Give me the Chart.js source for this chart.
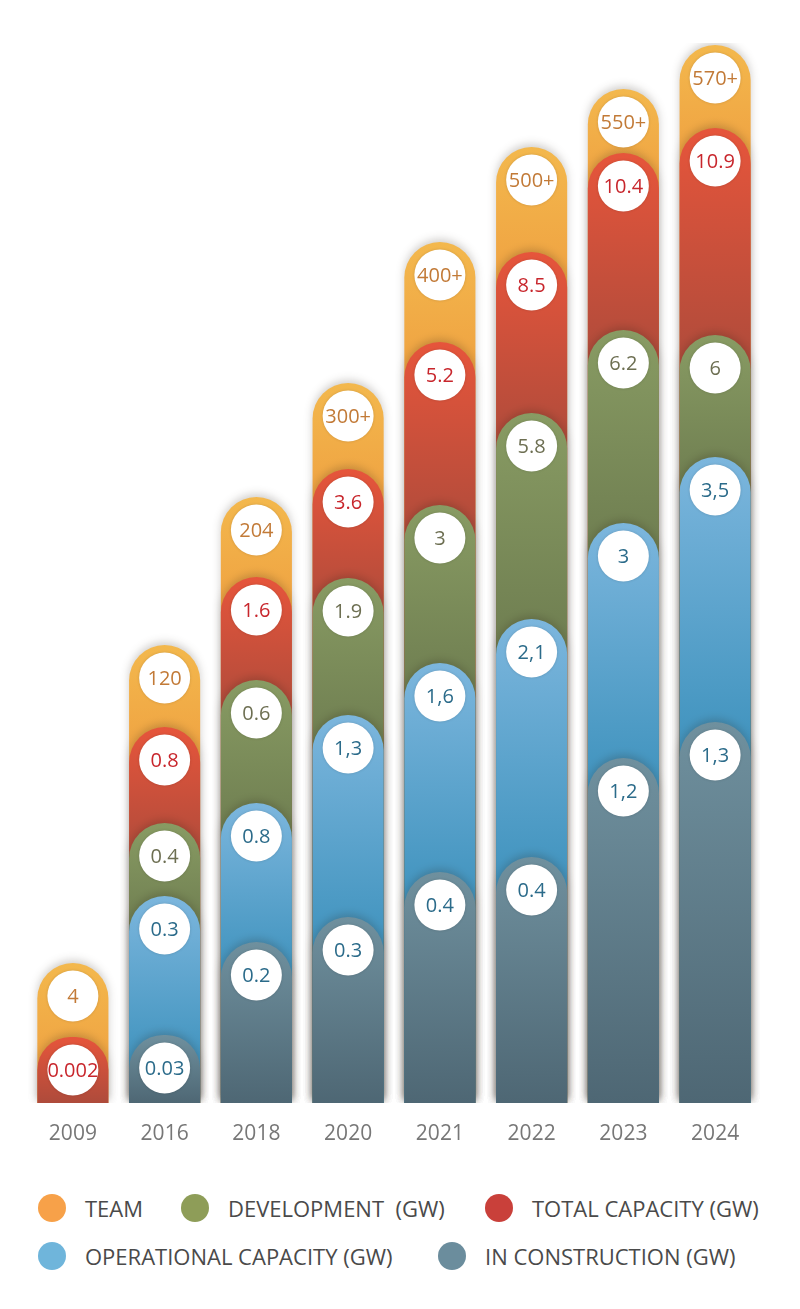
<!DOCTYPE html>
<html>
<head>
<meta charset="utf-8">
<script src="https://cdn.jsdelivr.net/npm/chart.js@4.4.1/dist/chart.umd.min.js"></script>
<style>
  html, body { margin: 0; padding: 0; background: #fff; }
  body { width: 800px; height: 1309px; position: relative; font-family: 'Open Sans', sans-serif; overflow: hidden; }
  #wrap { position: absolute; left: 0; top: 0; width: 800px; height: 1160px; }
  .leg { position: absolute; display: flex; align-items: center; height: 28px; font-size: 22px; color: #4a4a4a; white-space: pre; }
  .dot { width: 28px; height: 28px; border-radius: 50%; margin-right: 19px; flex: none; }
</style>
</head>
<body>
<div id="wrap"><canvas id="c" width="800" height="1160"></canvas></div>
<div class="leg" style="left:38px;top:1194px"><span class="dot" style="background:#F7A149"></span>TEAM</div>
<div class="leg" style="left:181px;top:1194px"><span class="dot" style="background:#8E9D58"></span>DEVELOPMENT  (GW)</div>
<div class="leg" style="left:485px;top:1194px"><span class="dot" style="background:#C9403A"></span>TOTAL CAPACITY (GW)</div>
<div class="leg" style="left:38px;top:1242px"><span class="dot" style="background:#6FB5DB"></span>OPERATIONAL CAPACITY (GW)</div>
<div class="leg" style="left:438px;top:1242px"><span class="dot" style="background:#6B8D9D"></span>IN CONSTRUCTION (GW)</div>
<script>
// Categories
const years = ['2009', '2016', '2018', '2020', '2021', '2022', '2023', '2024'];

// Displayed values (as printed in the infographic)
const teamLabels         = ['4', '120', '204', '300+', '400+', '500+', '550+', '570+'];
const totalLabels        = ['0.002', '0.8', '1.6', '3.6', '5.2', '8.5', '10.4', '10.9'];
const developmentLabels  = [null, '0.4', '0.6', '1.9', '3', '5.8', '6.2', '6'];
const operationalLabels  = [null, '0.3', '0.8', '1,3', '1,6', '2,1', '3', '3,5'];
const constructionLabels = [null, '0.03', '0.2', '0.3', '0.4', '0.4', '1,2', '1,3'];

// Height reached by each series' pill (the graphic is not to scale)
const teamLevel         = [14.0, 45.8, 60.6, 72.0, 86.1, 95.6, 101.4, 105.8];
const totalLevel        = [6.6, 37.6, 52.6, 63.4, 76.1, 85.1, 95.0, 97.5];
const developmentLevel  = [null, 28.0, 42.3, 52.5, 59.8, 69.0, 77.3, 76.8];
const operationalLevel  = [null, 20.7, 30.0, 38.8, 44.0, 48.4, 58.0, 64.6];
const constructionLevel = [null, 6.8, 16.1, 18.6, 23.1, 24.6, 34.5, 38.1];

const levelsBottomUp = [constructionLevel, operationalLevel, developmentLevel, totalLevel, teamLevel];

function lowerLevel(arr, i) {
  const idx = levelsBottomUp.indexOf(arr);
  for (let k = idx - 1; k >= 0; k--) {
    if (levelsBottomUp[k][i] != null) return levelsBottomUp[k][i];
  }
  return 0;
}

function gradientFill(arr, topColor, bottomColor) {
  return function (ctx) {
    const chart = ctx.chart;
    if (!chart.chartArea || ctx.type !== 'data') return topColor;
    const i = ctx.dataIndex;
    const v = arr[i];
    if (v == null) return topColor;
    const y = chart.scales.y;
    const top = y.getPixelForValue(v);
    const low = lowerLevel(arr, i);
    let bottom = y.getPixelForValue(low) + (low > 0 ? 36 : 0);
    if (bottom <= top + 10) bottom = top + 10;
    const g = chart.ctx.createLinearGradient(0, top, 0, bottom);
    g.addColorStop(0, topColor);
    g.addColorStop(1, bottomColor);
    return g;
  };
}

const labelPlugin = {
  id: 'pillLabels',
  beforeDatasetDraw(chart) {
    const c = chart.ctx;
    c.save();
    c.shadowColor = 'rgba(40,30,20,0.22)';
    c.shadowBlur = 8;
    c.shadowOffsetX = 0;
    c.shadowOffsetY = -3;
  },
  afterDatasetDraw(chart) {
    chart.ctx.restore();
  },
  afterDatasetsDraw(chart) {
    const c = chart.ctx;
    chart.data.datasets.forEach((ds, di) => {
      const meta = chart.getDatasetMeta(di);
      meta.data.forEach((el, i) => {
        const txt = ds.valueLabels[i];
        if (txt == null || ds.data[i] == null) return;
        const cx = el.x, cy = el.y + 33;
        c.save();
        c.shadowColor = 'rgba(0,0,0,0.15)';
        c.shadowBlur = 3;
        c.beginPath();
        c.arc(cx, cy, 25.5, 0, Math.PI * 2);
        c.fillStyle = '#ffffff';
        c.fill();
        c.restore();
        c.save();
        c.font = '20px "Open Sans"';
        c.fillStyle = ds.labelColor;
        c.textAlign = 'center';
        c.textBaseline = 'middle';
        c.fillText(txt, cx, cy + 1);
        c.restore();
      });
    });
  }
};

const barCommon = {
  borderWidth: 0,
  borderRadius: { topLeft: 36, topRight: 36, bottomLeft: 0, bottomRight: 0 },
  borderSkipped: 'start',
  barPercentage: 0.775,
  categoryPercentage: 1.0
};

new Chart(document.getElementById('c'), {
  type: 'bar',
  data: {
    labels: years,
    datasets: [
      Object.assign({ label: 'TEAM', data: teamLevel, valueLabels: teamLabels, labelColor: '#C27A37', order: 4,
        backgroundColor: gradientFill(teamLevel, '#F3B84D', '#EFA141') }, barCommon),
      Object.assign({ label: 'DEVELOPMENT  (GW)', data: developmentLevel, valueLabels: developmentLabels, labelColor: '#6D6F52', order: 2,
        backgroundColor: gradientFill(developmentLevel, '#889B63', '#6E7D50') }, barCommon),
      Object.assign({ label: 'TOTAL CAPACITY (GW)', data: totalLevel, valueLabels: totalLabels, labelColor: '#C8262C', order: 3,
        backgroundColor: gradientFill(totalLevel, '#E6553B', '#AE4B3B') }, barCommon),
      Object.assign({ label: 'OPERATIONAL CAPACITY (GW)', data: operationalLevel, valueLabels: operationalLabels, labelColor: '#2B6B8A', order: 1,
        backgroundColor: gradientFill(operationalLevel, '#7CB6DD', '#3E92BD') }, barCommon),
      Object.assign({ label: 'IN CONSTRUCTION (GW)', data: constructionLevel, valueLabels: constructionLabels, labelColor: '#2B6B8A', order: 0,
        backgroundColor: gradientFill(constructionLevel, '#6F909E', '#4E6774') }, barCommon)
    ]
  },
  options: {
    responsive: false,
    animation: false,
    devicePixelRatio: 1,
    layout: { padding: { top: 43, left: 27, right: 39, bottom: 0 } },
    plugins: { legend: { display: false }, tooltip: { enabled: false } },
    scales: {
      x: {
        stacked: true,
        grid: { display: false, drawTicks: false },
        border: { display: false },
        ticks: { color: '#777777', font: { family: 'Open Sans', size: 21 }, padding: 18 },
        afterFit(scale) { scale.height = 57; }
      },
      y: {
        stacked: false,
        display: false,
        min: 0,
        max: 106
      }
    }
  },
  plugins: [labelPlugin]
});
</script>
</body>
</html>
